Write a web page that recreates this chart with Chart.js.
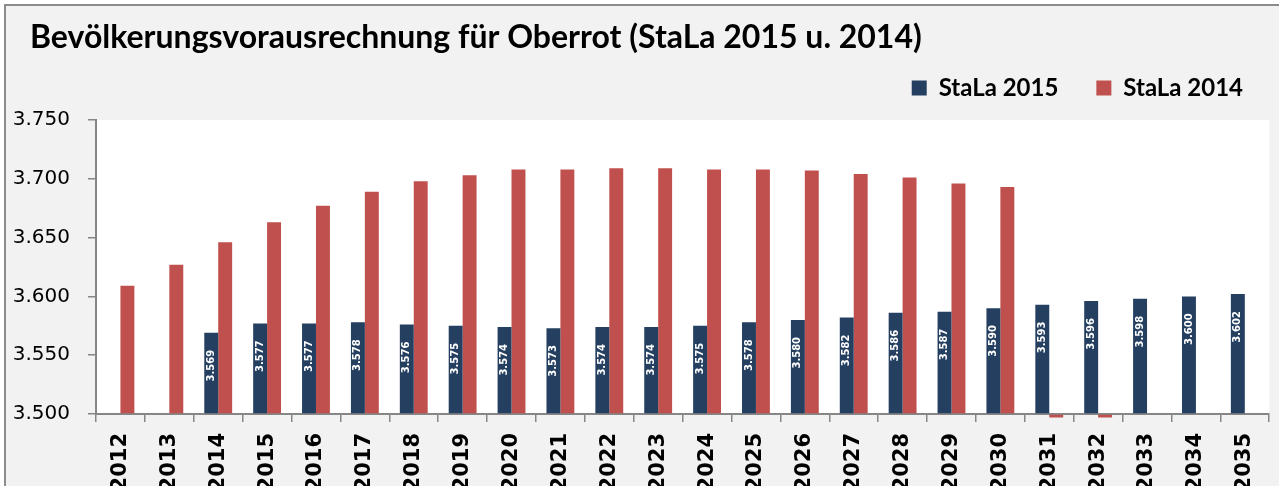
<!DOCTYPE html>
<html>
<head>
<meta charset="utf-8">
<script src="https://cdn.jsdelivr.net/npm/chart.js@4.4.1/dist/chart.umd.min.js"></script>
<style>
  html, body { margin: 0; padding: 0; background: #ffffff; overflow: hidden; }
  #frame {
    position: absolute; left: 4px; top: 4px;
    width: 1290px; height: 490px;
    border-top: 2px solid #8c8c8c; border-left: 2px solid #8c8c8c;
    background: #f2f2f2;
  }
  #chart { display: block; }
</style>
</head>
<body>
<div id="frame"><canvas id="chart" width="1275" height="480"></canvas></div>
<script>
var years = ['2012', '2013', '2014', '2015', '2016', '2017', '2018', '2019', '2020', '2021', '2022', '2023',
             '2024', '2025', '2026', '2027', '2028', '2029', '2030', '2031', '2032', '2033', '2034', '2035'];

// StaLa 2015 (no values for 2012/2013)
var stala2015 = [null, null, 3569, 3577, 3577, 3578, 3576, 3575, 3574, 3573, 3574, 3574,
                 3575, 3578, 3580, 3582, 3586, 3587, 3590, 3593, 3596, 3598, 3600, 3602];

// StaLa 2014 (ends 2030, the 2031/2032 entries sit just under the axis)
var stala2014 = [3609, 3627, 3646, 3663, 3677, 3689, 3698, 3703, 3708, 3708, 3709, 3709,
                 3708, 3708, 3707, 3704, 3701, 3696, 3693, 3497, 3497, null, null, null];

var yTicks = [3500, 3550, 3600, 3650, 3700, 3750];

var navy = '#243f60';
var red = '#c0504d';
var axisGrey = '#868686';

function fmt(v)
{
	var s = String(v % 1000);
	while (s.length < 3) s = '0' + s;
	return Math.floor(v / 1000) + '.' + s;
}

// white plot area on the grey background, title indented like the original
var plotBg = {
	id: 'plotBg',
	afterLayout: function(chart) {
		if (chart.titleBlock) chart.titleBlock.left = 24;
	},
	beforeDraw: function(chart) {
		var a = chart.chartArea, ctx = chart.ctx;
		ctx.save();
		ctx.fillStyle = '#ffffff';
		ctx.fillRect(a.left, a.top, a.right - a.left, a.bottom - a.top);
		ctx.restore();
	}
};

// rotated white value labels inside the navy bars
var barLabels = {
	id: 'barLabels',
	afterDatasetsDraw: function(chart) {
		var ctx = chart.ctx;
		var meta = chart.getDatasetMeta(0);
		ctx.save();
		ctx.fillStyle = '#ffffff';
		ctx.font = 'bold 10px "DejaVu Sans"';
		ctx.textAlign = 'right';
		ctx.textBaseline = 'middle';
		meta.data.forEach(function(bar, i) {
			if (stala2015[i] == null) return;
			ctx.save();
			ctx.translate(bar.x, bar.y + 17);
			ctx.rotate(-Math.PI / 2);
			ctx.fillText(fmt(stala2015[i]), 0, 0);
			ctx.restore();
		});
		ctx.restore();
	}
};

new Chart(document.getElementById('chart').getContext('2d'), {
	type: 'bar',
	data: {
		labels: years,
		datasets: [
			{ label: 'StaLa 2015', data: stala2015, backgroundColor: navy, borderWidth: 0, base: 3500 },
			{ label: 'StaLa 2014', data: stala2014, backgroundColor: red, borderWidth: 0, base: 3500,
			  clip: { left: 0, top: 0, right: 0, bottom: 8 } }
		]
	},
	options: {
		responsive: false,
		animation: false,
		devicePixelRatio: 1,
		layout: { padding: 0 },
		datasets: { bar: { barPercentage: 1, categoryPercentage: 0.57 } },
		plugins: {
			title: {
				display: true,
				text: 'Bevölkerungsvorausrechnung für Oberrot (StaLa 2015 u. 2014)',
				align: 'start',
				color: '#000000',
				font: { family: 'Lato', size: 32, weight: 'bold', lineHeight: 1.2 },
				padding: { top: 12, bottom: -18.4 }
			},
			subtitle: {
				// spacer between legend and plot
				display: true,
				text: '',
				weight: 500,
				font: { size: 10, lineHeight: 1 },
				padding: 0
			},
			legend: {
				display: true,
				align: 'end',
				labels: {
					color: '#000000',
					font: { family: 'Lato', size: 24, weight: 'bold' },
					boxWidth: 15,
					boxHeight: 15,
					padding: 38
				}
			},
			tooltip: { enabled: false }
		},
		scales: {
			x: {
				grid: { offset: true, drawOnChartArea: false, drawTicks: true, tickLength: 8, color: axisGrey, lineWidth: 1.5 },
				border: { display: true, color: axisGrey, width: 2 },
				ticks: {
					autoSkip: false,
					minRotation: 90,
					maxRotation: 90,
					padding: 11,
					color: '#000000',
					font: { family: 'DejaVu Sans', size: 21, weight: 'bold' }
				},
				afterFit: function(scale) { scale.height = 72; }
			},
			y: {
				min: 3500,
				max: 3750,
				grid: { drawOnChartArea: false, drawTicks: true, tickLength: 8, color: axisGrey, lineWidth: 1.5 },
				border: { display: true, color: axisGrey, width: 2 },
				afterBuildTicks: function(scale) {
					scale.ticks = yTicks.map(function(v) { return { value: v }; });
				},
				ticks: {
					padding: 18,
					color: '#000000',
					font: { family: 'DejaVu Sans', size: 20 },
					callback: function(v) { return fmt(v); }
				},
				afterFit: function(scale) { scale.width = 90; }
			}
		}
	},
	plugins: [plotBg, barLabels]
});
</script>
</body>
</html>
